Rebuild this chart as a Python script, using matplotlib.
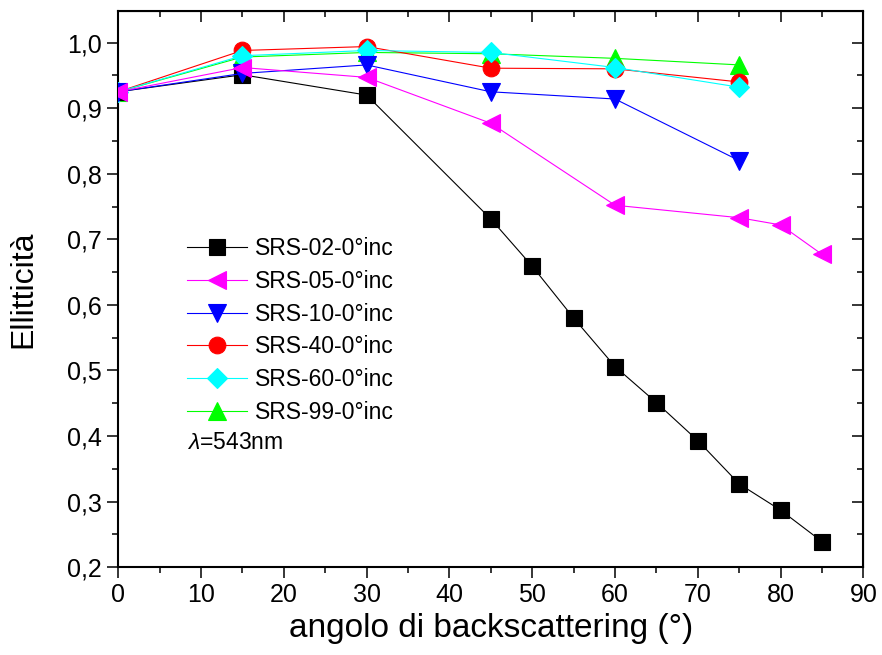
import matplotlib
matplotlib.use("Agg")
import matplotlib.pyplot as plt
from matplotlib.ticker import MultipleLocator, FuncFormatter

plt.rcParams["font.family"] = ["Liberation Sans", "DejaVu Sans"]
plt.rcParams["mathtext.fontset"] = "custom"
plt.rcParams["mathtext.it"] = "Liberation Sans:italic"
plt.rcParams["mathtext.rm"] = "Liberation Sans"

# angles (deg)
x_long = [0, 15, 30, 45, 50, 55, 60, 65, 70, 75, 80, 85]
x_05 = [0, 15, 30, 45, 60, 75, 80, 85]
x_short = [0, 15, 30, 45, 60, 75]

y_02 = [0.925, 0.951, 0.920, 0.731, 0.659, 0.580, 0.506, 0.451, 0.393, 0.327, 0.287, 0.239]
y_05 = [0.925, 0.962, 0.947, 0.877, 0.752, 0.733, 0.722, 0.677]
y_10 = [0.925, 0.953, 0.966, 0.925, 0.914, 0.820]
y_40 = [0.925, 0.988, 0.994, 0.961, 0.960, 0.940]
y_60 = [0.925, 0.980, 0.988, 0.985, 0.962, 0.932]
y_99 = [0.925, 0.978, 0.985, 0.983, 0.976, 0.966]

labels = ["SRS-02-0°inc", "SRS-05-0°inc", "SRS-10-0°inc",
          "SRS-40-0°inc", "SRS-60-0°inc", "SRS-99-0°inc"]

fig = plt.figure(figsize=(8.82, 6.55), dpi=100)
ax = fig.add_axes([0.134, 0.134, 0.845, 0.849])

kw = dict(lw=0.8, mew=0.8)
h02, = ax.plot(x_long, y_02, color="black", marker="s", ms=12, zorder=5, **kw)
h05, = ax.plot(x_05, y_05, color="#FF00FF", marker="<", ms=13, zorder=7, **kw)
h10, = ax.plot(x_short, y_10, color="#0000FF", marker="v", ms=13, zorder=6, **kw)
h40, = ax.plot(x_short, y_40, color="#FF0000", marker="o", ms=12, zorder=3, **kw)
h60, = ax.plot(x_short, y_60, color="#00FFFF", marker="D", ms=10.5, zorder=4, **kw)
h99, = ax.plot(x_short, y_99, color="#00FF00", marker="^", ms=13, zorder=2, **kw)

ax.set_xlim(0, 90)
ax.set_ylim(0.2, 1.048)
ax.xaxis.set_major_locator(MultipleLocator(10))
ax.xaxis.set_minor_locator(MultipleLocator(5))
ax.yaxis.set_major_locator(MultipleLocator(0.1))
ax.yaxis.set_minor_locator(MultipleLocator(0.05))
ax.yaxis.set_major_formatter(FuncFormatter(lambda v, p: f"{v:.1f}".replace(".", ",")))

for s in ax.spines.values():
    s.set_linewidth(1.5)
ax.tick_params(which="both", direction="out", width=1.1, labelsize=18, top=False, right=False)
ax.tick_params(which="major", length=8)
ax.tick_params(which="minor", length=4)

# top / right ticks point inward
top = ax.secondary_xaxis("top")
top.xaxis.set_major_locator(MultipleLocator(10))
top.xaxis.set_minor_locator(MultipleLocator(5))
top.tick_params(which="both", direction="in", width=1.1, labeltop=False)
top.tick_params(which="major", length=8)
top.tick_params(which="minor", length=4)
right = ax.secondary_yaxis("right")
right.yaxis.set_major_locator(MultipleLocator(0.1))
right.yaxis.set_minor_locator(MultipleLocator(0.05))
right.tick_params(which="both", direction="in", width=1.1, labelright=False)
right.tick_params(which="major", length=8)
right.tick_params(which="minor", length=4)

ax.set_xlabel("angolo di backscattering (°)", fontsize=24, labelpad=4)
ax.set_ylabel("Ellitticità", fontsize=23, labelpad=21)

ax.legend([h02, h05, h10, h40, h60, h99], labels, loc="upper left",
          bbox_to_anchor=(0.0926, 0.594), frameon=False, fontsize=16.5,
          borderpad=0, borderaxespad=0, handlelength=2.6, handletextpad=0.35,
          labelspacing=0.43)
ax.text(0.0926, 0.224, r"$\lambda$=543nm", transform=ax.transAxes,
        fontsize=16.5, va="center", ha="left")

fig.savefig("out.png", dpi=100)
